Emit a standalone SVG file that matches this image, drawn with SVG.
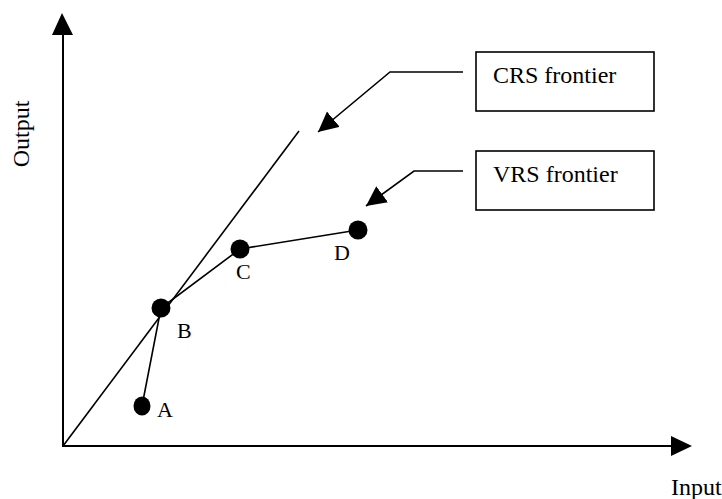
<svg xmlns="http://www.w3.org/2000/svg" width="722" height="499" viewBox="0 0 722 499">
<style>
.ln{stroke:#000;stroke-width:1.6;fill:none}
.ax{stroke:#000;stroke-width:2;fill:none}
.dot{fill:#000}
.t{font-family:"Liberation Serif","Times New Roman",serif;font-size:22px;fill:#000}
.tb{font-family:"Liberation Serif","Times New Roman",serif;font-size:24px;fill:#000}
.box{fill:#fff;stroke:#000;stroke-width:1.6}
</style>
<defs>
<marker id="ah" markerUnits="userSpaceOnUse" markerWidth="24" markerHeight="24" refX="20" refY="10" orient="auto">
<path d="M0,0 L20,10 L0,20 Z" fill="#000"/>
</marker>
</defs>
<rect width="722" height="499" fill="#fff"/>
<g id="axes">
<line class="ax" x1="63" y1="446" x2="63" y2="34"/>
<polygon points="62,13 52,35 73,35" fill="#000"/>
<line class="ax" x1="62" y1="446" x2="672" y2="446"/>
<polygon points="692,446 671,436 671,456" fill="#000"/>
<text class="tb" x="671" y="495">Input</text>
<text class="tb" transform="translate(29,134) rotate(-90)" text-anchor="middle">Output</text>
</g>
<g id="connectors">
<line class="ln" x1="63" y1="446" x2="299" y2="131"/>
<polyline class="ln" points="142,406 161,308 240,249 358,230"/>
<polyline class="ln" points="463,72 390,72 318,132" marker-end="url(#ah)"/>
<polyline class="ln" points="463,171 414,171 366,206" marker-end="url(#ah)"/>
</g>
<g id="A"><ellipse class="dot" cx="142" cy="406" rx="8.5" ry="9.5"/><text class="t" x="157" y="417">A</text></g>
<g id="B"><circle class="dot" cx="161" cy="308" r="9.5"/><text class="t" x="177" y="338">B</text></g>
<g id="C"><circle class="dot" cx="240" cy="249" r="9.5"/><text class="t" x="236" y="279">C</text></g>
<g id="D"><circle class="dot" cx="358" cy="230" r="9.5"/><text class="t" x="334" y="260">D</text></g>
<g id="crs"><rect class="box" x="476" y="52" width="178" height="59"/><text class="tb" x="493" y="83">CRS frontier</text></g>
<g id="vrs"><rect class="box" x="476" y="151" width="178" height="59"/><text class="tb" x="493" y="182">VRS frontier</text></g>
</svg>
